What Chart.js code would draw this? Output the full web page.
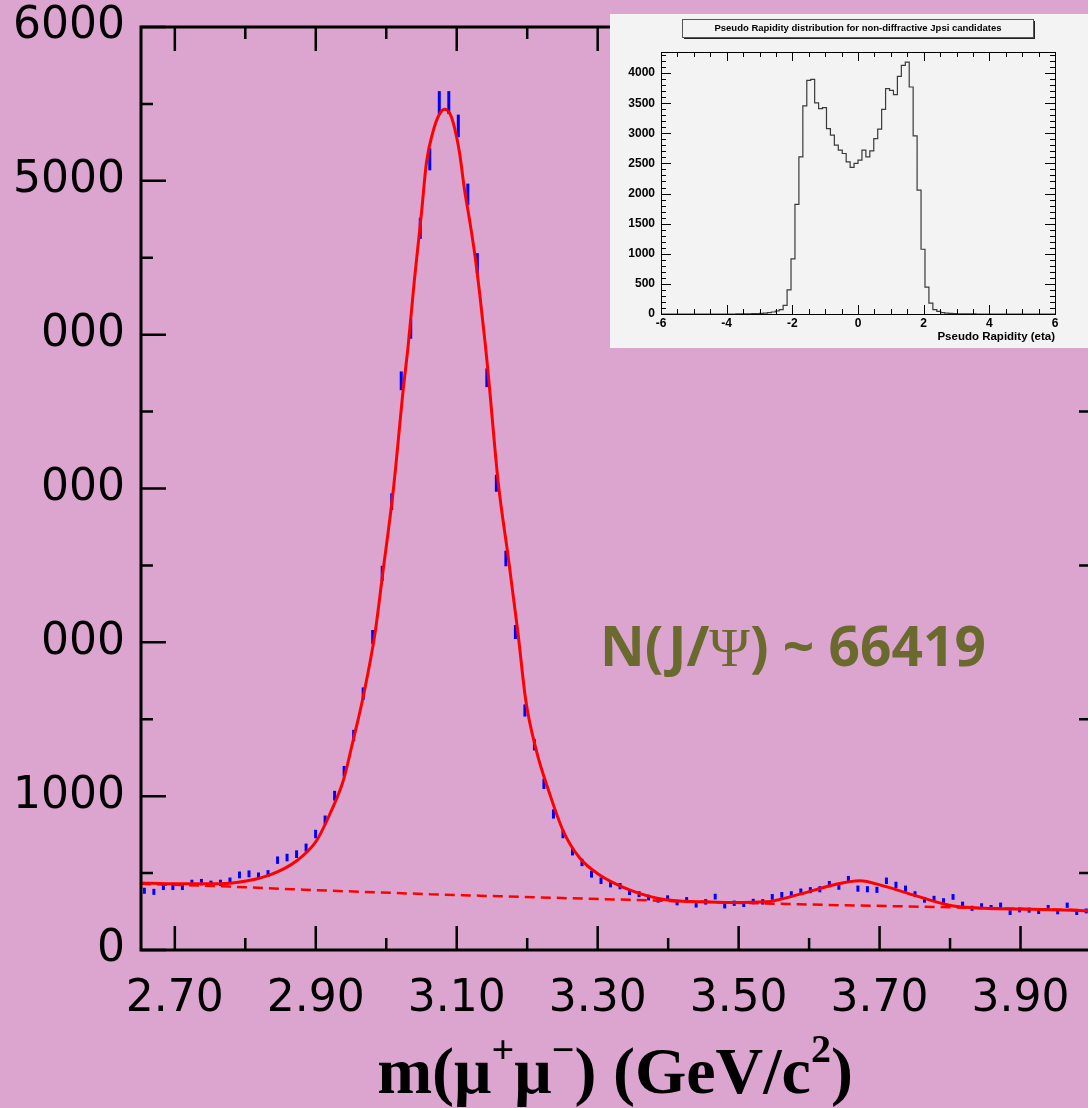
<!DOCTYPE html>
<html>
<head>
<meta charset="utf-8">
<title>J/psi mass peak</title>
<script src="https://cdn.jsdelivr.net/npm/chart.js@4.4.1/dist/chart.umd.min.js"></script>
<style>
  html, body { margin: 0; padding: 0; }
  body { width: 1088px; height: 1108px; overflow: hidden; background: #dba5cf; position: relative; }
  #main { position: absolute; left: 0; top: 0; width: 1100px; height: 1108px; }
  #inset { position: absolute; left: 610px; top: 14px; width: 478px; height: 334px; background: #f3f3f3; }
</style>
</head>
<body>
<div id="main"><canvas id="massChart"></canvas></div>
<div id="inset"><canvas id="etaChart"></canvas></div>
<script>
// dimuon mass histogram: 100 bins from 2.65 GeV
const massLo = 2.65;
const massBinWidth = 0.0135;
const counts = [
  385, 378, 410, 410, 410, 436, 441, 430, 436, 450,
  488, 495, 482, 497, 584, 601, 623, 666, 754, 845,
  1003, 1162, 1394, 1666, 2035, 2448, 2914, 3700, 4037, 4691,
  5140, 5509, 5509, 5357, 4912, 4463, 3720, 3034, 2545, 2067,
  1557, 1334, 1080, 884, 754, 640, 569, 493, 450, 428,
  415, 377, 363, 341, 326, 337, 308, 326, 293, 313,
  347, 287, 304, 297, 315, 313, 345, 358, 363, 380,
  389, 395, 428, 412, 460, 399, 395, 391, 450, 423,
  399, 363, 326, 334, 319, 345, 297, 271, 287, 276,
  291, 243, 261, 259, 250, 276, 248, 291, 243, 254
];

// fit curve
const fitMass = [2.652, 2.70, 2.75, 2.79, 2.835, 2.873, 2.901, 2.920, 2.939, 2.953,
  2.967, 2.984, 2.995, 3.010, 3.024, 3.031, 3.040, 3.050, 3.057, 3.066,
  3.075, 3.083, 3.090, 3.095, 3.104, 3.111, 3.118, 3.126, 3.133, 3.140,
  3.144, 3.159, 3.173, 3.187, 3.198, 3.213, 3.232, 3.251, 3.274, 3.300,
  3.347, 3.397, 3.445, 3.492, 3.539, 3.587, 3.634, 3.672, 3.705, 3.752,
  3.799, 3.847, 3.917, 4.0];
const fitCounts = [436, 430, 430, 440, 488, 580, 710, 884, 1101, 1362,
  1640, 2057, 2448, 2990, 3640, 3924, 4358, 4792, 5118, 5314,
  5430, 5466, 5440, 5379, 5183, 4944, 4752, 4510, 4250, 3960,
  3780, 3034, 2557, 2057, 1622, 1296, 1014, 775, 601, 496,
  388, 326, 313, 308, 313, 363, 423, 450, 417, 352,
  291, 271, 265, 254];

// background (dashed)
const bkgMass = [2.652, 2.778, 2.867, 3.062, 3.345, 3.587, 3.775, 4.0];
const bkgCounts = [430, 412, 395, 363, 326, 297, 280, 258];

const xTickValues = [2.70, 2.90, 3.10, 3.30, 3.50, 3.70, 3.90];
const xTickLabels = ['2.70', '2.90', '3.10', '3.30', '3.50', '3.70', '3.90'];
const xMinorTicks = [2.80, 3.00, 3.20, 3.40, 3.60, 3.80];
const yTickValues = [0, 1000, 2000, 3000, 4000, 5000, 6000];
const yTickLabels = ['0', '1000', '000', '000', '000', '5000', '6000'];
const yMinorTicks = [500, 1500, 2500, 3500, 4500, 5500];

// inset: pseudo rapidity, 100 bins from -6 to 6
const etaLo = -6;
const etaBinWidth = 0.12;
const etaCounts = [
  0, 0, 0, 0, 0, 0, 0, 0, 0, 0,
  0, 0, 0, 0, 0, 0, 0, 0, 0, 1,
  1, 2, 3, 5, 7, 10, 15, 22, 33, 50,
  72, 143, 402, 916, 1821, 2610, 3454, 3879, 3896, 3504,
  3410, 3426, 3079, 2969, 2803, 2720, 2665, 2527, 2433, 2500,
  2555, 2720, 2610, 2709, 2913, 3068, 3399, 3741, 3713, 3642,
  3945, 4127, 4183, 3769, 2957, 2057, 1075, 446, 182, 72,
  44, 22, 14, 9, 6, 4, 3, 2, 1, 1,
  0, 0, 0, 0, 0, 0, 0, 0, 0, 0,
  0, 0, 0, 0, 0, 0, 0, 0, 0, 0
];
const etaTickValues = [-6, -4, -2, 0, 2, 4, 6];
const etaTickLabels = ['-6', '-4', '-2', '0', '2', '4', '6'];
const etaMinorTicks = [-5.5, -5, -4.5, -3.5, -3, -2.5, -1.5, -1, -0.5, 0.5, 1, 1.5, 2.5, 3, 3.5, 4.5, 5, 5.5];
const etaYTickValues = [0, 500, 1000, 1500, 2000, 2500, 3000, 3500, 4000];
const etaYTickLabels = ['0', '500', '1000', '1500', '2000', '2500', '3000', '3500', '4000'];
const etaYMinorTicks = [100, 200, 300, 400, 600, 700, 800, 900, 1100, 1200, 1300, 1400,
  1600, 1700, 1800, 1900, 2100, 2200, 2300, 2400, 2600, 2700, 2800, 2900,
  3100, 3200, 3300, 3400, 3600, 3700, 3800, 3900, 4100, 4200, 4300];

function drawRuns(ctx, runs, x, baseline) {
  runs.forEach(r => {
    ctx.font = r.font;
    ctx.fillText(r.text, x, baseline + (r.dy || 0));
    x += ctx.measureText(r.text).width;
  });
}
function runsWidth(ctx, runs) {
  let w = 0;
  runs.forEach(r => { ctx.font = r.font; w += ctx.measureText(r.text).width; });
  return w;
}

const massFrame = {
  id: 'massFrame',
  afterDraw(chart) {
    const { ctx, chartArea: a, scales: { x, y } } = chart;
    ctx.save();
    ctx.strokeStyle = '#000';
    ctx.lineWidth = 3;
    ctx.strokeRect(a.left, a.top, a.right - a.left, a.bottom - a.top);

    ctx.lineWidth = 2.5;
    ctx.beginPath();
    xTickValues.forEach(v => {
      const p = x.getPixelForValue(v);
      ctx.moveTo(p, a.bottom); ctx.lineTo(p, a.bottom - 24);
      ctx.moveTo(p, a.top); ctx.lineTo(p, a.top + 24);
    });
    xMinorTicks.forEach(v => {
      const p = x.getPixelForValue(v);
      ctx.moveTo(p, a.bottom); ctx.lineTo(p, a.bottom - 12);
      ctx.moveTo(p, a.top); ctx.lineTo(p, a.top + 12);
    });
    yTickValues.forEach(v => {
      const p = y.getPixelForValue(v);
      ctx.moveTo(a.left, p); ctx.lineTo(a.left + 25, p);
    });
    yMinorTicks.forEach(v => {
      const p = y.getPixelForValue(v);
      ctx.moveTo(a.left, p); ctx.lineTo(a.left + 12, p);
      ctx.moveTo(a.right, p); ctx.lineTo(a.right - 12, p);
    });
    ctx.stroke();

    // axis title
    ctx.fillStyle = '#000';
    ctx.textBaseline = 'alphabetic';
    const big = 'bold 66px "Liberation Serif"';
    const sup = 'bold 40px "Liberation Serif"';
    const title = [
      { text: 'm(\u03bc', font: big },
      { text: '+', font: sup, dy: -30 },
      { text: '\u03bc', font: big },
      { text: '\u2212', font: sup, dy: -30 },
      { text: ') (GeV/c', font: big },
      { text: '2', font: sup, dy: -31 },
      { text: ')', font: big }
    ];
    drawRuns(ctx, title, 615 - runsWidth(ctx, title) / 2, 1093);

    // yield annotation
    ctx.fillStyle = '#6b6a2e';
    const ann = 'bold 55px "Noto Sans"';
    drawRuns(ctx, [
      { text: 'N(J/', font: ann },
      { text: '\u03a8', font: '55px "Liberation Serif"' },
      { text: ') ~ 66419', font: ann }
    ], 600, 666);
    ctx.restore();
  }
};

new Chart(document.getElementById('massChart'), {
  type: 'scatter',
  data: {
    datasets: [
      {
        type: 'line',
        label: 'fit',
        data: fitMass.map((m, i) => ({ x: m, y: fitCounts[i] })),
        borderColor: '#ff0000',
        borderWidth: 3,
        pointRadius: 0,
        cubicInterpolationMode: 'monotone',
        fill: false
      },
      {
        type: 'line',
        label: 'background',
        data: bkgMass.map((m, i) => ({ x: m, y: bkgCounts[i] })),
        borderColor: '#ff0000',
        borderWidth: 2.5,
        borderDash: [10, 6],
        pointRadius: 0,
        cubicInterpolationMode: 'monotone',
        fill: false
      },
      {
        label: 'data',
        data: counts.map((c, i) => ({ x: massLo + massBinWidth * (i + 0.5), y: c })),
        pointStyle: 'line',
        pointRotation: 90,
        pointBorderColor: '#0000ff',
        pointBackgroundColor: '#0000ff',
        pointBorderWidth: 3,
        pointRadius: ctx => {
          if (!ctx.raw) return 3;
          const ys = ctx.chart.scales.y;
          return Math.abs(ys.getPixelForValue(ctx.raw.y) - ys.getPixelForValue(ctx.raw.y + Math.sqrt(ctx.raw.y)));
        },
        pointHoverRadius: 3
      }
    ]
  },
  options: {
    responsive: true,
    maintainAspectRatio: false,
    animation: false,
    layout: { padding: { top: 27, right: 9, left: 0, bottom: 0 } },
    plugins: { legend: { display: false }, tooltip: { enabled: false } },
    scales: {
      x: {
        type: 'linear', min: 2.652, max: 4.0,
        grid: { display: false, drawTicks: false },
        border: { display: false },
        afterBuildTicks: s => { s.ticks = xTickValues.map(v => ({ value: v })); },
        afterFit: s => { s.height = 158; s.paddingLeft = 0; s.paddingRight = 0; },
        ticks: {
          autoSkip: false, maxRotation: 0, padding: 23, color: '#000',
          font: { family: 'DejaVu Sans', size: 44 },
          callback: (v, i) => xTickLabels[i]
        }
      },
      y: {
        min: 0, max: 6000,
        grid: { display: false, drawTicks: false },
        border: { display: false },
        afterBuildTicks: s => { s.ticks = yTickValues.map(v => ({ value: v })); },
        afterFit: s => { s.width = 141; s.paddingTop = 0; s.paddingBottom = 0; },
        ticks: {
          autoSkip: false, padding: 16, color: '#000',
          font: { family: 'DejaVu Sans', size: 44 },
          callback: (v, i) => yTickLabels[i]
        }
      }
    }
  },
  plugins: [massFrame]
});

const etaFrame = {
  id: 'etaFrame',
  afterDraw(chart) {
    const { ctx, chartArea: a, scales: { x, y } } = chart;
    ctx.save();
    ctx.strokeStyle = '#000';
    ctx.lineWidth = 1;
    ctx.strokeRect(a.left + 0.5, a.top + 0.5, a.right - a.left, a.bottom - a.top);
    ctx.beginPath();
    etaTickValues.forEach(v => {
      const p = Math.round(x.getPixelForValue(v)) + 0.5;
      ctx.moveTo(p, a.bottom); ctx.lineTo(p, a.bottom - 9);
      ctx.moveTo(p, a.top); ctx.lineTo(p, a.top + 9);
    });
    etaMinorTicks.forEach(v => {
      const p = Math.round(x.getPixelForValue(v)) + 0.5;
      ctx.moveTo(p, a.bottom); ctx.lineTo(p, a.bottom - 5);
      ctx.moveTo(p, a.top); ctx.lineTo(p, a.top + 5);
    });
    etaYTickValues.forEach(v => {
      const p = Math.round(y.getPixelForValue(v)) + 0.5;
      ctx.moveTo(a.left, p); ctx.lineTo(a.left + 10, p);
      ctx.moveTo(a.right, p); ctx.lineTo(a.right - 10, p);
    });
    etaYMinorTicks.forEach(v => {
      const p = Math.round(y.getPixelForValue(v)) + 0.5;
      ctx.moveTo(a.left, p); ctx.lineTo(a.left + 5, p);
      ctx.moveTo(a.right, p); ctx.lineTo(a.right - 5, p);
    });
    ctx.stroke();

    // title box with shadow
    ctx.fillStyle = '#222';
    ctx.fillRect(423, 7, 2, 18);
    ctx.fillRect(74, 23, 351, 2);
    ctx.strokeStyle = '#555';
    ctx.strokeRect(72.5, 5.5, 351, 18);
    ctx.fillStyle = '#000';
    ctx.font = 'bold 9.5px "Liberation Sans"';
    ctx.textAlign = 'center';
    ctx.textBaseline = 'middle';
    ctx.fillText('Pseudo Rapidity distribution for non-diffractive Jpsi candidates', 248, 14.5);

    ctx.font = 'bold 11.5px "Liberation Sans"';
    ctx.textAlign = 'right';
    ctx.textBaseline = 'alphabetic';
    ctx.fillText('Pseudo Rapidity (eta)', a.right, 326);
    ctx.restore();
  }
};

new Chart(document.getElementById('etaChart'), {
  type: 'line',
  data: {
    datasets: [{
      label: 'eta',
      data: etaCounts.map((c, k) => ({ x: etaLo + etaBinWidth * k, y: c }))
        .concat([{ x: etaLo + etaBinWidth * etaCounts.length, y: 0 }]),
      stepped: 'before',
      borderColor: '#3a3a3a',
      borderWidth: 1.2,
      pointRadius: 0,
      fill: false
    }]
  },
  options: {
    responsive: true,
    maintainAspectRatio: false,
    animation: false,
    layout: { padding: { top: 38, right: 33, left: 0, bottom: 0 } },
    plugins: { legend: { display: false }, tooltip: { enabled: false } },
    scales: {
      x: {
        type: 'linear', min: -6, max: 6,
        grid: { display: false, drawTicks: false },
        border: { display: false },
        afterBuildTicks: s => { s.ticks = etaTickValues.map(v => ({ value: v })); },
        afterFit: s => { s.height = 34; s.paddingLeft = 0; s.paddingRight = 0; },
        ticks: {
          autoSkip: false, maxRotation: 0, padding: 2, color: '#000',
          font: { family: 'Liberation Sans', size: 12, weight: 'bold' },
          callback: (v, i) => etaTickLabels[i]
        }
      },
      y: {
        min: 0, max: 4350,
        grid: { display: false, drawTicks: false },
        border: { display: false },
        afterBuildTicks: s => { s.ticks = etaYTickValues.map(v => ({ value: v })); },
        afterFit: s => { s.width = 51; s.paddingTop = 0; s.paddingBottom = 0; },
        ticks: {
          autoSkip: false, padding: 6, color: '#000',
          font: { family: 'Liberation Sans', size: 12, weight: 'bold' },
          callback: (v, i) => etaYTickLabels[i]
        }
      }
    }
  },
  plugins: [etaFrame]
});
</script>
</body>
</html>
